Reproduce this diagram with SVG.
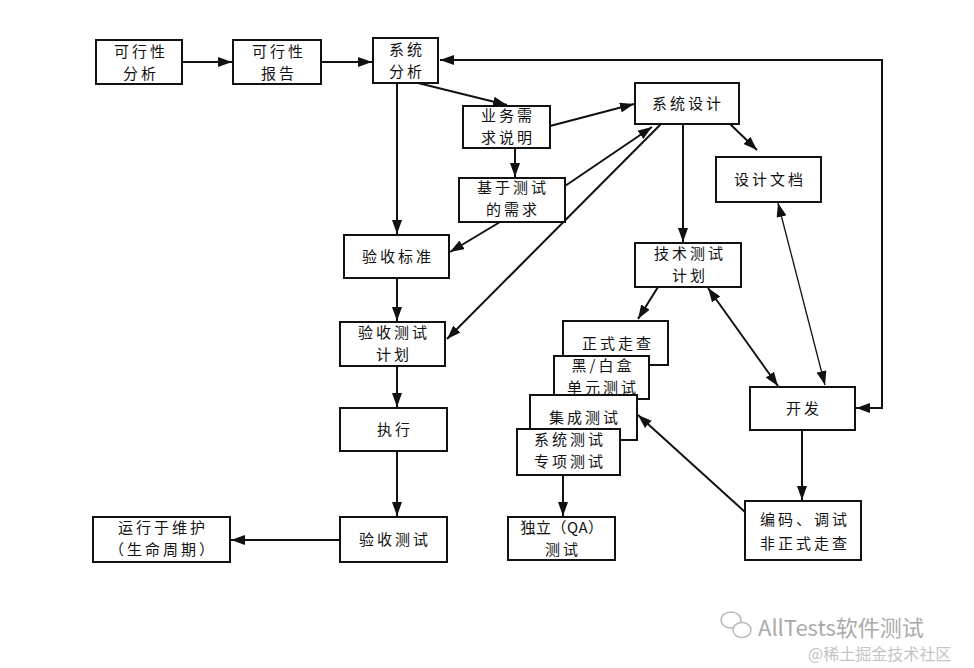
<svg xmlns="http://www.w3.org/2000/svg" width="974" height="668" viewBox="0 0 974 668">
<style>
.b{fill:#fff;stroke:#111;stroke-width:2}
.t{font-family:"Noto Sans CJK SC","Noto Sans",sans-serif;font-size:15px;fill:#111;text-anchor:middle;letter-spacing:3px}
.c{fill:none;stroke:#111;stroke-width:2}
.thin{fill:none;stroke:#111;stroke-width:1.3}
.wm{font-family:"Noto Sans CJK SC","Liberation Sans",sans-serif;text-anchor:start}
</style>
<defs>
<marker id="a" viewBox="0 0 14 10" refX="14" refY="5" markerWidth="14" markerHeight="10" markerUnits="userSpaceOnUse" orient="auto-start-reverse"><path d="M0,0 L14,5 L0,10 z" fill="#111"/></marker>
</defs>
<rect width="974" height="668" fill="#fff"/>
<g id="connectors">
<line class="c" x1="182" y1="62" x2="232" y2="62" marker-end="url(#a)"/>
<line class="c" x1="321" y1="62" x2="372" y2="62" marker-end="url(#a)"/>
<polyline class="c" points="856,408 882,408 882,60 440,60" marker-start="url(#a)" marker-end="url(#a)"/>
<line class="c" x1="418" y1="83" x2="507" y2="105" marker-end="url(#a)"/>
<line class="c" x1="397" y1="83" x2="397" y2="234" marker-end="url(#a)"/>
<line class="c" x1="550" y1="126" x2="634" y2="104" marker-end="url(#a)"/>
<line class="c" x1="515" y1="148" x2="515" y2="177" marker-end="url(#a)"/>
<line class="c" x1="565" y1="186" x2="652" y2="127" marker-end="url(#a)"/>
<line class="c" x1="661" y1="124" x2="447" y2="339" marker-end="url(#a)"/>
<line class="c" x1="500" y1="222" x2="450" y2="252" marker-end="url(#a)"/>
<line class="c" x1="397" y1="278" x2="397" y2="321" marker-end="url(#a)"/>
<line class="c" x1="397" y1="366" x2="397" y2="407" marker-end="url(#a)"/>
<line class="c" x1="397" y1="451" x2="397" y2="516" marker-end="url(#a)"/>
<line class="c" x1="340" y1="540" x2="231" y2="540" marker-end="url(#a)"/>
<line class="c" x1="683" y1="124" x2="683" y2="242" marker-end="url(#a)"/>
<line class="c" x1="730" y1="124" x2="757" y2="150" marker-end="url(#a)"/>
<line class="c" x1="658" y1="287" x2="638" y2="319" marker-end="url(#a)"/>
<line class="c" x1="708" y1="288" x2="778" y2="386" marker-start="url(#a)" marker-end="url(#a)"/>
<line class="thin" x1="778" y1="203" x2="825" y2="385" marker-start="url(#a)" marker-end="url(#a)"/>
<line class="c" x1="802" y1="430" x2="802" y2="500" marker-end="url(#a)"/>
<line class="c" x1="745" y1="512" x2="638" y2="415" marker-end="url(#a)"/>
<line class="c" x1="563" y1="475" x2="563" y2="516" marker-end="url(#a)"/>
</g>
<g id="n1"><rect class="b" x="96" y="40" width="86" height="44"/><text class="t" x="141" y="57">可行性</text><text class="t" x="141" y="79">分析</text></g>
<g id="n2"><rect class="b" x="233" y="40" width="88" height="44"/><text class="t" x="279" y="57">可行性</text><text class="t" x="279" y="79">报告</text></g>
<g id="n3"><rect class="b" x="373" y="38" width="65" height="45"/><text class="t" x="407" y="55">系统</text><text class="t" x="407" y="77">分析</text></g>
<g id="n4"><rect class="b" x="463" y="106" width="87" height="42"/><text class="t" x="508" y="121">业务需</text><text class="t" x="508" y="143">求说明</text></g>
<g id="n5"><rect class="b" x="459" y="178" width="106" height="44"/><text class="t" x="513" y="193">基于测试</text><text class="t" x="513" y="215">的需求</text></g>
<g id="n6"><rect class="b" x="635" y="83" width="104" height="41"/><text class="t" x="688" y="109">系统设计</text></g>
<g id="n7"><rect class="b" x="716" y="157" width="105" height="45"/><text class="t" x="770" y="185">设计文档</text></g>
<g id="n8"><rect class="b" x="344" y="235" width="105" height="43"/><text class="t" x="398" y="262">验收标准</text></g>
<g id="n9"><rect class="b" x="340" y="322" width="105" height="44"/><text class="t" x="394" y="338">验收测试</text><text class="t" x="394" y="360">计划</text></g>
<g id="n10"><rect class="b" x="635" y="243" width="106" height="44"/><text class="t" x="690" y="259">技术测试</text><text class="t" x="690" y="281">计划</text></g>
<g id="n11"><rect class="b" x="563" y="321" width="105" height="44"/><text class="t" x="618" y="349">正式走查</text></g>
<g id="n12"><rect class="b" x="554" y="356" width="95" height="43"/><text class="t" x="603" y="371">黑/白盒</text><text class="t" x="603" y="393">单元测试</text></g>
<g id="n13"><rect class="b" x="530" y="395" width="107" height="45"/><text class="t" x="585" y="423">集成测试</text></g>
<g id="n14"><rect class="b" x="517" y="429" width="103" height="46"/><text class="t" x="570" y="445">系统测试</text><text class="t" x="570" y="467">专项测试</text></g>
<g id="n15"><rect class="b" x="340" y="408" width="107" height="43"/><text class="t" x="395" y="435">执行</text></g>
<g id="n16"><rect class="b" x="340" y="517" width="107" height="45"/><text class="t" x="395" y="545">验收测试</text></g>
<g id="n17"><rect class="b" x="93" y="517" width="137" height="45"/><text class="t" x="163" y="533">运行于维护</text><text class="t" x="163" y="555">（生命周期）</text></g>
<g id="n18"><rect class="b" x="508" y="517" width="107" height="43"/><text class="t" x="562" y="533" style="letter-spacing:0.5px">独立（QA）</text><text class="t" x="563" y="555">测试</text></g>
<g id="n19"><rect class="b" x="750" y="387" width="105" height="43"/><text class="t" x="804" y="414">开发</text></g>
<g id="n20"><rect class="b" x="745" y="501" width="116" height="59"/><text class="t" x="805" y="525">编码、调试</text><text class="t" x="805" y="549">非正式走查</text></g>
<g id="watermark" fill="none" stroke="#bbb" stroke-width="1.5">
<ellipse cx="731" cy="620" rx="10" ry="8"/>
<ellipse cx="742" cy="630" rx="9" ry="7.5" fill="#fff"/>
</g>
<text class="wm" x="758" y="636" font-size="22" fill="#aaa">AllTests软件测试</text>
<text class="wm" x="808" y="660" font-size="16" fill="#c4c4c4">@稀土掘金技术社区</text>
</svg>
